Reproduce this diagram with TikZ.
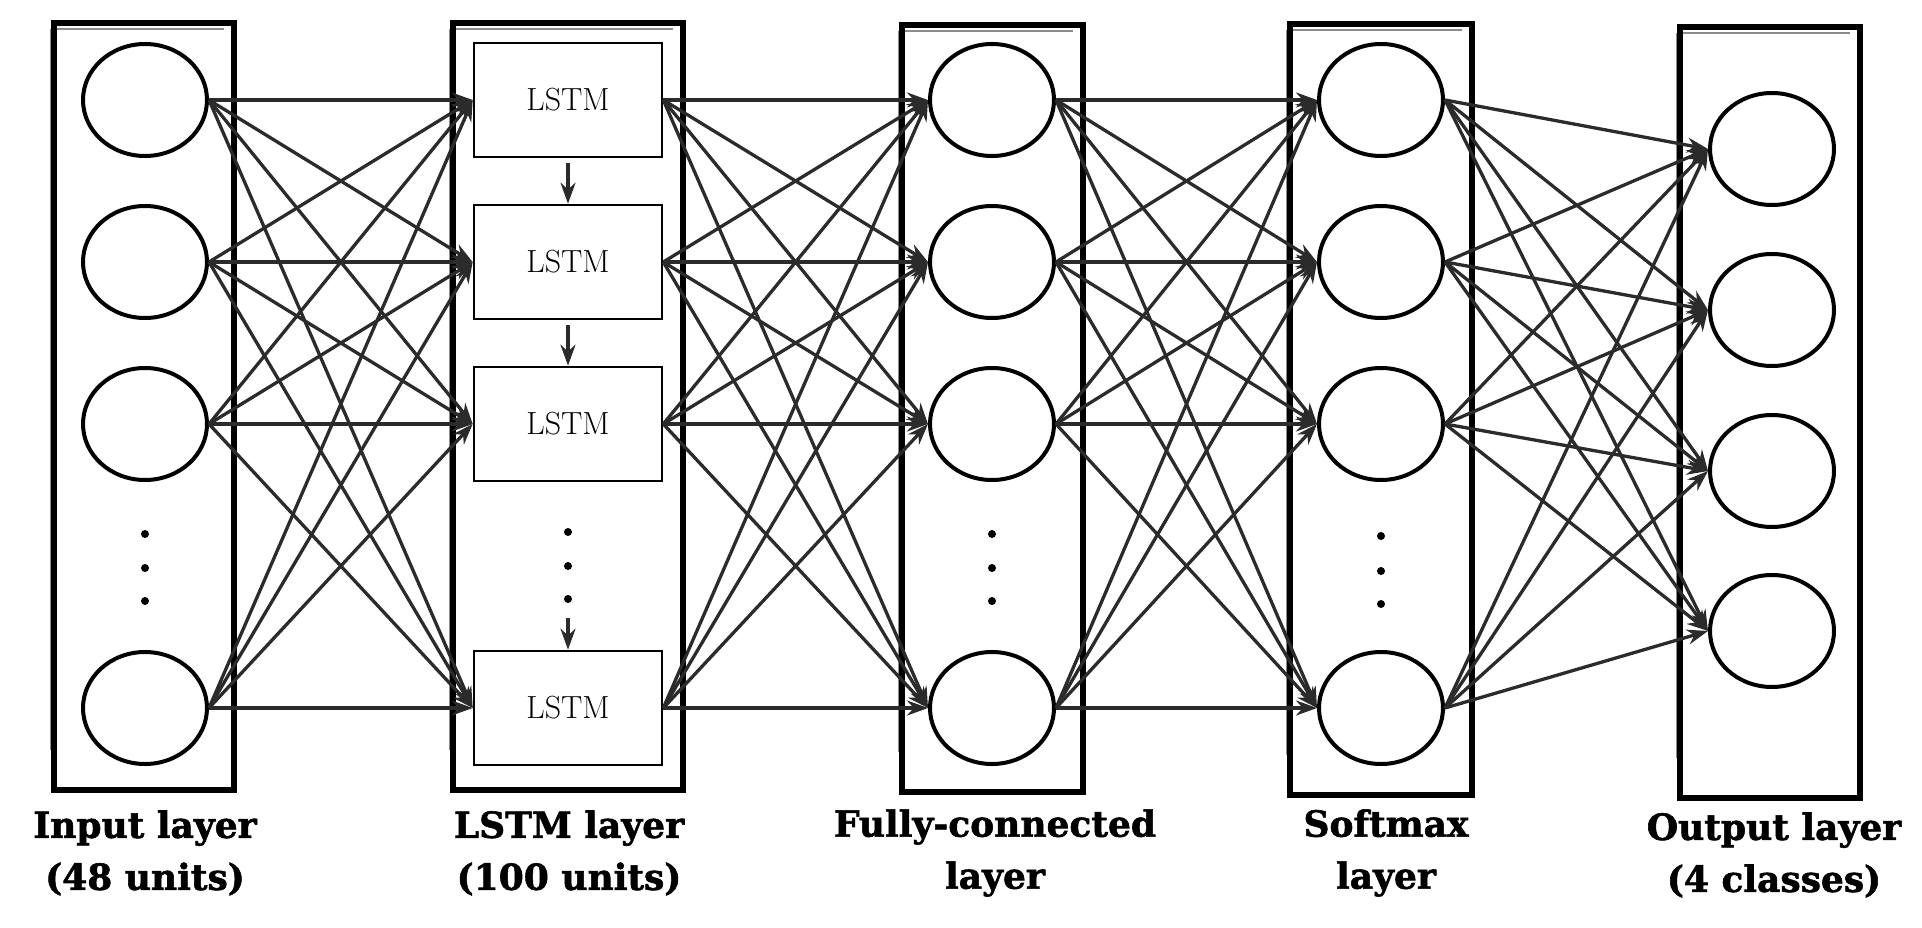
\documentclass[tikz,border=0pt]{standalone}
\usepackage{fontspec}
\newfontfamily\labfont{DejaVu Serif}[BoldFeatures={FakeBold=1.6}]
\usetikzlibrary{shapes.geometric,arrows.meta}
\definecolor{linegray}{HTML}{2B2B2B}
\begin{document}
\begin{tikzpicture}[x=1pt,y=-1pt,
 neuron/.style={ellipse,draw=black,line width=4pt,minimum width=124pt,minimum height=112pt,inner sep=0pt},
 lstmbox/.style={rectangle,draw=black,line width=2.6pt,minimum width=188pt,minimum height=114pt,inner sep=0pt,font=\fontsize{32}{34}\selectfont},
 conn/.style={draw=linegray,line width=3.3pt,-{Stealth[length=21pt,width=15pt]}},
 layerlab/.style={align=center,font=\labfont\bfseries\fontsize{36}{52}\selectfont},
 dotnode/.style={circle,fill=black,inner sep=0pt,minimum size=8pt},
 frame/.style={draw=black,line width=6pt},
 frameghost/.style={draw=black!45,line width=1.2pt}
]
\useasboundingbox (0,0) rectangle (1922,928);
% layer frames
\foreach \xa/\ya/\xb/\yb in {54/23/234/790, 453/23/683/790, 902/25/1083/792, 1290/24/1472/795, 1680/27/1860/798}{
  \draw[frameghost] (\xa-3,\ya+6) -- (\xa-3,\yb-40);
  \draw[frameghost] (\xa+2,\ya+6) -- (\xb-10,\ya+6);
  \draw[frame] (\xa,\ya) rectangle (\xb,\yb);
}
% nodes
\foreach \i/\y in {0/100,1/262,2/424,3/708}{
  \node[neuron] (in\i) at (145,\y) {};
  \node[lstmbox] (ls\i) at (568,\y) {LSTM};
  \node[neuron] (fc\i) at (992,\y) {};
  \node[neuron] (sm\i) at (1381,\y) {};
}
\foreach \i/\y in {0/149,1/310,2/471,3/631}{
  \node[neuron] (out\i) at (1772,\y) {};
}
% dots
\foreach \n/\x/\ya/\yb/\yc in {a/145/534/568/601, b/568/532/566/599, c/992/534/568/601, d/1381/536/571/604}{
  \node[dotnode] (dot\n1) at (\x,\ya) {};
  \node[dotnode] (dot\n2) at (\x,\yb) {};
  \node[dotnode] (dot\n3) at (\x,\yc) {};
}
% LSTM recurrence
\coordinate (lsdots) at (568,618);
\draw[conn,shorten <=5pt] (ls0.south) -- (ls1.north);
\draw[conn,shorten <=5pt] (ls1.south) -- (ls2.north);
\draw[conn] (lsdots) -- (ls3.north);
% full connections
\foreach \i in {0,...,3}{
  \foreach \j in {0,...,3}{
    \draw[conn] (in\i.east) -- (ls\j.west);
    \draw[conn] (ls\i.east) -- (fc\j.west);
    \draw[conn] (fc\i.east) -- (sm\j.west);
    \draw[conn] (sm\i.east) -- (out\j.west);
  }
}
% labels
\node[layerlab] (labin) at (145,853) {Input layer\\(48 units)};
\node[layerlab] (labls) at (569,853) {LSTM layer\\(100 units)};
\node[layerlab] (labfc) at (995,853) {Fully-connected\\layer};
\node[layerlab] (labsm) at (1386,853) {Softmax\\layer};
\node[layerlab] (labout) at (1774,855) {Output layer\\(4 classes)};
\end{tikzpicture}
\end{document}
